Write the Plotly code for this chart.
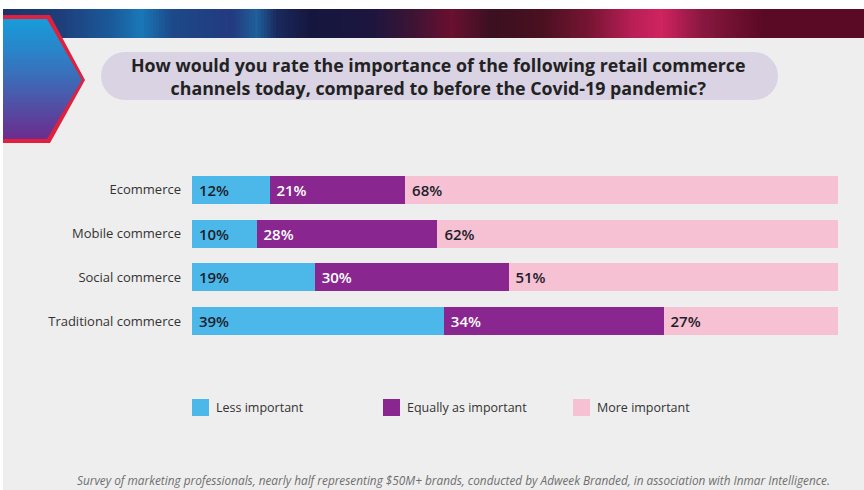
import plotly.graph_objects as go

# ---------------- data ----------------
categories = ["Ecommerce", "Mobile commerce", "Social commerce", "Traditional commerce"]
series_names = ["Less important", "Equally as important", "More important"]
less_important = [12, 10, 19, 39]
equally_important = [21, 28, 30, 34]
more_important = [68, 62, 51, 27]

title_text = ("How would you rate the importance of the following retail commerce<br>"
              "channels today, compared to before the Covid-19 pandemic?")
footnote_text = ("Survey of marketing professionals, nearly half representing $50M+ brands, "
                 "conducted by Adweek Branded, in association with Inmar Intelligence.")

# ---------------- styles ----------------
W, H = 864, 490
colors = ["#4bb8e9", "#8a2690", "#f6c1d3"]
text_colors = ["#1d1d2b", "#ffffff", "#1d1d2b"]
FONT = "Open Sans"


def X(px):
    return px / W


def Y(py):
    return 1 - py / H


fig = go.Figure()
values = [less_important, equally_important, more_important]
for name, vals, col, tcol in zip(series_names, values, colors, text_colors):
    fig.add_trace(go.Bar(
        y=categories, x=vals, name=name, orientation="h",
        marker=dict(color=col, line=dict(width=0)),
        text=[f" {v}%" for v in vals],
        textposition="inside", insidetextanchor="start",
        textfont=dict(color=tcol, size=15, family=FONT, weight=600),
        showlegend=False, hoverinfo="x+name",
    ))

shapes = []
annotations = []

# white edges
shapes.append(dict(type="rect", xref="paper", yref="paper", x0=0, x1=1, y0=Y(9), y1=1,
                   fillcolor="#ffffff", line=dict(width=0), layer="below"))
shapes.append(dict(type="rect", xref="paper", yref="paper", x0=0, x1=X(3), y0=0, y1=1,
                   fillcolor="#ffffff", line=dict(width=0), layer="below"))


# banner gradient (decoration)
def hex2rgb(h):
    h = h.lstrip("#")
    return tuple(int(h[i:i + 2], 16) for i in (0, 2, 4))


stops = [(3, "#1a3468"), (60, "#1e3f7c"), (110, "#1b5a9a"), (140, "#1a78b8"),
         (170, "#1d4a8a"), (230, "#243a80"), (255, "#1f5f9a"), (275, "#1a2a5e"),
         (310, "#15163e"), (370, "#1d1640"), (410, "#3c1435"), (450, "#6a1030"),
         (490, "#3b1020"), (540, "#4a1020"), (590, "#7a1535"), (630, "#b81f55"),
         (660, "#d0245f"), (700, "#8a1840"), (760, "#5c0a25"), (864, "#5a0a25")]
step = 3
px = 3
while px < W:
    for (a, ca), (b, cb) in zip(stops[:-1], stops[1:]):
        if a <= px <= b:
            t = (px - a) / (b - a)
            r1, g1, b1 = hex2rgb(ca)
            r2, g2, b2 = hex2rgb(cb)
            c = f"rgb({int(r1 + (r2 - r1) * t)},{int(g1 + (g2 - g1) * t)},{int(b1 + (b2 - b1) * t)})"
            break
    shapes.append(dict(type="rect", xref="paper", yref="paper", x0=X(px), x1=X(min(px + step + 0.5, W)),
                       y0=Y(38), y1=Y(9), fillcolor=c, line=dict(width=0), layer="below"))
    px += step

# chevron (decoration)
outer = [(3, 15), (50, 15), (85, 80), (50, 143), (3, 143)]
path = "M " + " L ".join(f"{X(a)},{Y(b)}" for a, b in outer) + " Z"
shapes.append(dict(type="path", xref="paper", yref="paper", path=path,
                   fillcolor="#e0203c", line=dict(width=0), layer="below"))


def inner_right(py):
    top, tip, bot = 19, 80, 139
    if py <= tip:
        return 47 + (82 - 47) * (py - top) / (tip - top)
    return 82 - (82 - 47) * (py - tip) / (bot - tip)


top_c, bot_c = hex2rgb("#1a9ad8"), hex2rgb("#6e2a8c")
py = 19
while py < 139:
    py2 = min(py + 3, 139)
    t = (py - 19) / 120
    t = t ** 1.2
    c = f"rgb({int(top_c[0] + (bot_c[0] - top_c[0]) * t)},{int(top_c[1] + (bot_c[1] - top_c[1]) * t)},{int(top_c[2] + (bot_c[2] - top_c[2]) * t)})"
    y2 = min(py2 + 0.6, 139)
    pts = [(3, py), (inner_right(py), py), (inner_right(y2), y2), (3, y2)]
    if py < 80 < py2:
        pts = [(3, py), (inner_right(py), py), (82, 80), (inner_right(y2), y2), (3, y2)]
    p = "M " + " L ".join(f"{X(a)},{Y(b)}" for a, b in pts) + " Z"
    shapes.append(dict(type="path", xref="paper", yref="paper", path=p,
                       fillcolor=c, line=dict(width=0), layer="below"))
    py = py2

# title pill
pill = "#d9d3e3"
shapes.append(dict(type="circle", xref="paper", yref="paper", x0=X(101), x1=X(149), y0=Y(100), y1=Y(52),
                   fillcolor=pill, line=dict(width=0), layer="below"))
shapes.append(dict(type="circle", xref="paper", yref="paper", x0=X(730), x1=X(778), y0=Y(100), y1=Y(52),
                   fillcolor=pill, line=dict(width=0), layer="below"))
shapes.append(dict(type="rect", xref="paper", yref="paper", x0=X(125), x1=X(754), y0=Y(100), y1=Y(52),
                   fillcolor=pill, line=dict(width=0), layer="below"))
annotations.append(dict(text=f"<b>{title_text}</b>", xref="paper", yref="paper", x=X(438), y=Y(76.5),
                        xanchor="center", yanchor="middle", showarrow=False, align="center",
                        font=dict(family=FONT, size=17.8, color="#222222")))

# legend (manual)
leg_x = [192, 383, 573]
for name, col, lx in zip(series_names, colors, leg_x):
    shapes.append(dict(type="rect", xref="paper", yref="paper", x0=X(lx), x1=X(lx + 17),
                       y0=Y(416), y1=Y(399), fillcolor=col, line=dict(width=0)))
    annotations.append(dict(text=name, xref="paper", yref="paper", x=X(lx + 22), y=Y(407),
                            xanchor="left", yanchor="middle", showarrow=False,
                            font=dict(family=FONT, size=12.5, color="#333333")))

# footnote
annotations.append(dict(text=f"<i>{footnote_text}</i>", xref="paper", yref="paper", x=X(453), y=Y(480),
                        xanchor="center", yanchor="middle", showarrow=False,
                        font=dict(family=FONT, size=11.8, color="#6e6e6e")))

fig.update_layout(
    width=W, height=H, margin=dict(l=0, r=0, t=0, b=0, pad=0),
    paper_bgcolor="#eeeeee", plot_bgcolor="rgba(0,0,0,0)",
    barmode="stack", bargap=0.36,
    xaxis=dict(domain=[X(192), X(838)], range=[0, 100], visible=False, fixedrange=True),
    yaxis=dict(domain=[Y(343), Y(168)], categoryorder="array", categoryarray=categories,
               autorange="reversed", showgrid=False, zeroline=False, showline=False, ticks="",
               ticklabelstandoff=10,
               tickfont=dict(family=FONT, size=13, color="#333333")),
    shapes=shapes, annotations=annotations,
    uniformtext=dict(minsize=12, mode="show"),
)

fig.write_html("out.html")
